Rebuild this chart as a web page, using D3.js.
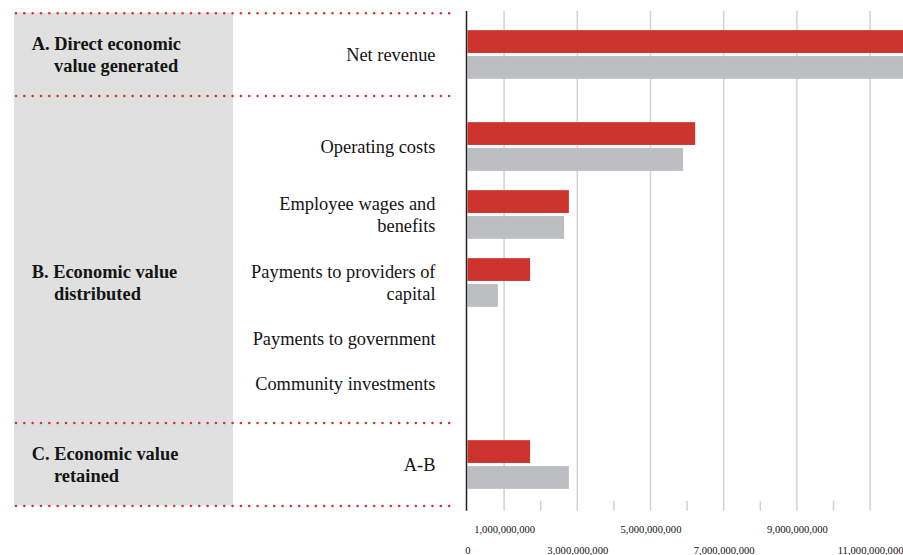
<!DOCTYPE html>
<html>
<head>
<meta charset="utf-8">
<script src="https://cdn.jsdelivr.net/npm/d3@7"></script>
<style>
  html, body { margin: 0; padding: 0; background: #fff; }
  svg { display: block; }
  text { font-family: "Liberation Serif", "Times New Roman", serif; fill: #141414; }
</style>
</head>
<body>
<svg id="chart" width="903" height="555"></svg>
<script>
// Economic value generated, distributed and retained (two periods)
const sectionKeys = ["A", "B", "C"];
const sectionNames = [
  "Direct economic value generated",
  "Economic value distributed",
  "Economic value retained"
];
const categories = [
  "Net revenue",
  "Operating costs",
  "Employee wages and benefits",
  "Payments to providers of capital",
  "Payments to government",
  "Community investments",
  "A-B"
];
const categorySection = ["A", "B", "B", "B", "B", "B", "C"];
const seriesKeys = ["current", "previous"];
const currentValues  = [12.41e9, 6.22e9, 2.77e9, 1.71e9, 0, 0, 1.71e9];
const previousValues = [12.13e9, 5.89e9, 2.64e9, 0.83e9, 0, 0, 2.77e9];
const gridTicks  = [1e9, 3e9, 5e9, 7e9, 9e9, 11e9];
const minorTicks = [2e9, 4e9, 6e9, 8e9, 10e9];
const tickLabels = [0, 1e9, 3e9, 5e9, 7e9, 9e9, 11e9];

const seriesValues = { current: currentValues, previous: previousValues };
const seriesColor = d3.scaleOrdinal().domain(seriesKeys).range(["#cc342d", "#bdbec1"]);

const svg = d3.select("#chart");

// ---- vertical layout: sections stacked between top and bottom rules ----
// rows with values are taller than empty rows; the largest section
// absorbs the leftover height and centres its rows inside it
const layout = {
  top: 13, bottom: 506, rowH: 68, emptyRowH: 45, sectionPad: 7.5,
  barGroupH: 48.7, lineH: 22.5, fontSize: 18.4
};
const sectionRows = sectionKeys.map(key =>
  categories.map((c, i) => i).filter(i => categorySection[i] === key).map(i => ({
    i, name: categories[i],
    h: (currentValues[i] > 0 || previousValues[i] > 0) ? layout.rowH : layout.emptyRowH
  }))
);
const contentH = sectionRows.map(rs => d3.sum(rs, r => r.h));
const fillIndex = d3.maxIndex(sectionRows, rs => rs.length);
const sectionH = contentH.map(h => h + 2 * layout.sectionPad);
sectionH[fillIndex] = (layout.bottom - layout.top) - d3.sum(sectionH.filter((h, k) => k !== fillIndex));

const rows = [];
const sections = [];
let cursor = layout.top;
sectionKeys.forEach((key, s) => {
  const y0 = cursor, y1 = cursor + sectionH[s];
  let yy = y0 + (sectionH[s] - contentH[s]) / 2;
  const sRows = sectionRows[s].map(r => {
    const row = { i: r.i, name: r.name, y0: yy, y1: yy + r.h, cy: yy + r.h / 2 };
    yy += r.h;
    rows.push(row);
    return row;
  });
  sections.push({ key, name: sectionNames[s], y0, y1, titleY: sRows[Math.floor(sRows.length / 2)].cy });
  cursor = y1;
});
const bottom = cursor;

// ---- horizontal scale ----
const x = d3.scaleLinear().domain([0, 12e9]).range([467.5, 906.7]);
const plotTop = 11, axisY = 510.7;

// ---- label panel ----
const panel = { x0: 14, x1: 233, lineX0: 14, lineX1: 450, labelRight: 435.5 };

svg.append("rect")
  .attr("x", panel.x0).attr("y", layout.top - 0.5)
  .attr("width", panel.x1 - panel.x0).attr("height", bottom - layout.top)
  .attr("fill", "#e0e0e0");

// text measurement helper for wrapping
const measurer = svg.append("text").attr("visibility", "hidden").style("font-size", layout.fontSize + "px");
function textWidth(str, bold) {
  measurer.style("font-weight", bold ? "bold" : "normal").text(str);
  return measurer.node().getComputedTextLength();
}
function wrap(str, maxWidth, bold) {
  const words = str.split(" ");
  const lines = [];
  let line = "";
  words.forEach(w => {
    const trial = line ? line + " " + w : w;
    if (line && textWidth(trial, bold) > maxWidth) { lines.push(line); line = w; }
    else line = trial;
  });
  if (line) lines.push(line);
  return lines;
}

// section titles with hanging indent
sections.forEach(s => {
  const body = wrap(s.name, 150, true);
  const n = body.length;
  const g = svg.append("text")
    .style("font-size", layout.fontSize + "px")
    .style("font-weight", "bold");
  body.forEach((ln, k) => {
    const cy = s.titleY + (k - (n - 1) / 2) * layout.lineH;
    g.append("tspan")
      .attr("x", k === 0 ? 31.7 : 54)
      .attr("y", cy)
      .attr("dy", "0.35em")
      .text(k === 0 ? s.key + ". " + ln : ln);
  });
});

// category labels, right aligned
rows.forEach(r => {
  const lines = wrap(r.name, 200, false);
  const n = lines.length;
  const t = svg.append("text")
    .attr("text-anchor", "end")
    .style("font-size", layout.fontSize + "px");
  lines.forEach((ln, k) => {
    t.append("tspan")
      .attr("x", panel.labelRight)
      .attr("y", r.cy + (k - (n - 1) / 2) * layout.lineH)
      .attr("dy", "0.35em")
      .text(ln);
  });
});

// dotted section separators
const separatorYs = [sections[0].y0 + 0.3].concat(sections.map(s => s.y1));
svg.append("g").selectAll("line")
  .data(separatorYs)
  .join("line")
  .attr("x1", panel.lineX0 + 2).attr("x2", panel.lineX1)
  .attr("y1", d => d).attr("y2", d => d)
  .attr("stroke", "#d8322c")
  .attr("stroke-width", 2.6)
  .attr("stroke-linecap", "round")
  .attr("stroke-dasharray", "0 8.33");

// ---- gridlines and ticks ----
svg.append("g").selectAll("line")
  .data(gridTicks)
  .join("line")
  .attr("x1", d => x(d)).attr("x2", d => x(d))
  .attr("y1", plotTop).attr("y2", axisY)
  .attr("stroke", "#d2d2d2").attr("stroke-width", 1.5);

svg.append("g").selectAll("line")
  .data(minorTicks)
  .join("line")
  .attr("x1", d => x(d)).attr("x2", d => x(d))
  .attr("y1", axisY - 10).attr("y2", axisY)
  .attr("stroke", "#d2d2d2").attr("stroke-width", 1.5);

// ---- bars ----
const barsG = svg.append("g");
rows.forEach(r => {
  const yb = d3.scaleBand()
    .domain(seriesKeys)
    .range([r.cy - layout.barGroupH / 2, r.cy + layout.barGroupH / 2])
    .paddingInner(0.12);
  barsG.selectAll(null)
    .data(seriesKeys.map(k => ({ key: k, value: seriesValues[k][r.i] })))
    .join("rect")
    .attr("x", x(0))
    .attr("y", d => yb(d.key))
    .attr("width", d => Math.max(0, x(d.value) - x(0)))
    .attr("height", yb.bandwidth())
    .attr("fill", d => seriesColor(d.key));
});

// vertical axis line
svg.append("line")
  .attr("x1", x(0) - 1).attr("x2", x(0) - 1)
  .attr("y1", plotTop).attr("y2", axisY)
  .attr("stroke", "#222").attr("stroke-width", 1.5);

// ---- value axis labels (staggered on two rows) ----
const axisG = svg.append("g")
  .attr("transform", `translate(0,${axisY})`)
  .call(d3.axisBottom(x).tickValues(tickLabels).tickSize(0).tickFormat(d3.format(",")));
axisG.select(".domain").remove();
axisG.selectAll(".tick text")
  .attr("y", (d, i) => (i % 2 === 1 ? 18.6 : 40))
  .attr("dy", "0.35em")
  .style("font-family", "'Liberation Serif', 'Times New Roman', serif")
  .style("font-size", "10.6px")
  .attr("fill", "#1a1a1a");
</script>
</body>
</html>
